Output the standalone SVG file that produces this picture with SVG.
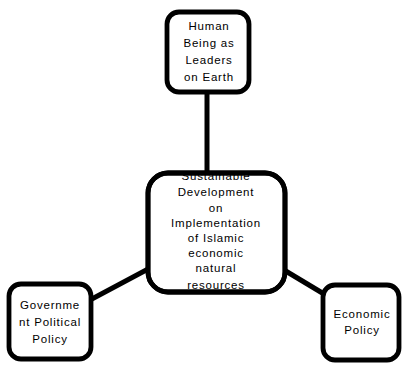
<svg xmlns="http://www.w3.org/2000/svg" width="403" height="365" viewBox="0 0 403 365">
<style>
.box{fill:#fff;stroke:#000;stroke-width:4.8}
.boxo{fill:none;stroke:#000;stroke-width:4.8}
.ln{stroke:#000;stroke-width:5;fill:none}
text{font-family:"Liberation Sans",Arial,sans-serif;font-size:11.5px;letter-spacing:0.8px;text-anchor:middle;fill:#000}
</style>
<rect width="403" height="365" fill="#fff"/>
<g id="connectors">
<line class="ln" x1="207" y1="92" x2="207" y2="173"/>
<line class="ln" x1="90" y1="300" x2="150" y2="268"/>
<line class="ln" x1="284" y1="270" x2="324" y2="294"/>
</g>
<g id="center">
<rect class="box" x="148" y="173" width="137" height="119" rx="20"/>
<text x="216" y="180">Sustainable</text>
<text x="216" y="196">Development</text>
<text x="216" y="212">on</text>
<text x="216" y="227">Implementation</text>
<text x="216" y="242">of Islamic</text>
<text x="216" y="257">economic</text>
<text x="216" y="272">natural</text>
<text x="216" y="289">resources</text>
<rect class="boxo" x="148" y="173" width="137" height="119" rx="20"/>
</g>
<g id="top">
<rect class="box" x="167" y="12" width="82" height="80" rx="12"/>
<text x="209" y="30">Human</text>
<text x="209" y="47">Being as</text>
<text x="209" y="64">Leaders</text>
<text x="209" y="81">on Earth</text>
</g>
<g id="left">
<rect class="box" x="9" y="284" width="82" height="75" rx="12"/>
<text x="50" y="309">Governme</text>
<text x="50" y="326">nt Political</text>
<text x="50" y="343">Policy</text>
</g>
<g id="right">
<rect class="box" x="323" y="285" width="76" height="75" rx="12"/>
<text x="362" y="318">Economic</text>
<text x="362" y="334">Policy</text>
</g>
</svg>
